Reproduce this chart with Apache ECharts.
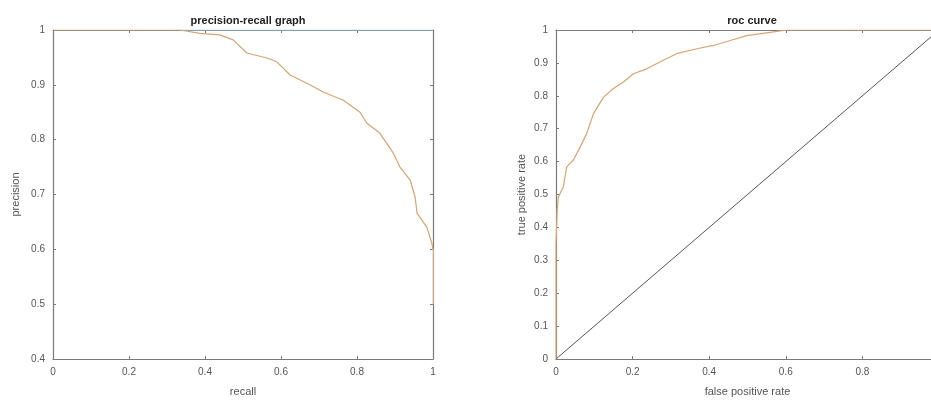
<!DOCTYPE html>
<html>
<head>
<meta charset="utf-8">
<script src="https://cdn.jsdelivr.net/npm/echarts@6/dist/echarts.min.js"></script>
<style>
html, body { margin: 0; padding: 0; background: #fff; }
#chart { width: 931px; height: 401px; }
</style>
</head>
<body>
<div id="chart"></div>
<script>
// precision-recall curve
const prRecall = [0, 0.334, 0.387, 0.439, 0.474, 0.51, 0.563, 0.589, 0.624, 0.676, 0.711, 0.764, 0.808, 0.826, 0.86, 0.896, 0.913, 0.94, 0.953, 0.958, 0.984, 0.997, 1]
const prPrecision = [1, 1, 0.994, 0.991, 0.982, 0.958, 0.949, 0.942, 0.918, 0.9, 0.887, 0.872, 0.85, 0.83, 0.812, 0.775, 0.75, 0.726, 0.695, 0.666, 0.64, 0.611, 0.6]
const prTailRecall = [1, 1]
const prTailPrecision = [0.6, 0.5]
const prTopRecall = [0.334, 1]
const prTopPrecision = [1, 1]

// roc curve
const rocFpr = [0, 0, 0.003, 0.006, 0.019, 0.028, 0.045, 0.063, 0.08, 0.098, 0.124, 0.15, 0.176, 0.202, 0.237, 0.28, 0.315, 0.368, 0.411, 0.455, 0.498, 0.559, 0.603, 1]
const rocTpr = [0, 0.35, 0.45, 0.492, 0.523, 0.584, 0.604, 0.644, 0.685, 0.746, 0.796, 0.822, 0.842, 0.867, 0.882, 0.908, 0.928, 0.943, 0.953, 0.968, 0.983, 0.993, 1, 1]
const diagX = [0, 1]
const diagY = [0, 1]

const zip = (xs, ys) => xs.map((x, i) => [x, ys[i]])

const font = 'Liberation Sans, Arial, sans-serif'
const axisColor = '#7a7a7a'
const curveColor = '#d6a477'

const mainAxis = (extra) => Object.assign({
    type: 'value',
    axisLine: { show: true, onZero: false, lineStyle: { color: axisColor, width: 1.2 } },
    axisTick: { show: true, inside: true, length: 3, lineStyle: { color: axisColor } },
    axisLabel: { color: '#555', fontSize: 10, fontFamily: font, margin: 8, formatter: (v) => String(+v.toFixed(1)) },
    splitLine: { show: false },
    nameTextStyle: { color: '#555', fontSize: 11, fontFamily: font }
}, extra)

const mirrorAxis = (extra) => Object.assign({
    type: 'value',
    axisLine: { show: true, onZero: false, lineStyle: { color: axisColor, width: 1.2 } },
    axisTick: { show: true, inside: true, length: 3, lineStyle: { color: axisColor } },
    axisLabel: { show: false },
    splitLine: { show: false }
}, extra)

const myChart = echarts.init(document.getElementById('chart'), null, { renderer: 'canvas' })

const option = {
    backgroundColor: '#fff',
    animation: false,
    title: [
        { text: 'precision-recall graph', left: 243, top: 10, textAlign: 'center',
          textStyle: { fontSize: 11, fontWeight: 'bold', color: '#222', fontFamily: font } },
        { text: 'roc curve', left: 747, top: 10, textAlign: 'center',
          textStyle: { fontSize: 11, fontWeight: 'bold', color: '#222', fontFamily: font } }
    ],
    grid: [
        { left: 53, top: 30, width: 380, height: 329, outerBoundsMode: 'none', containLabel: false },
        { left: 556, top: 30, width: 383, height: 329, outerBoundsMode: 'none', containLabel: false }
    ],
    xAxis: [
        mainAxis({ gridIndex: 0, position: 'bottom', min: 0, max: 1, interval: 0.2, name: 'recall', nameLocation: 'middle', nameGap: 27 }),
        mirrorAxis({ gridIndex: 0, position: 'top', min: 0, max: 1, interval: 0.2 }),
        mainAxis({ gridIndex: 1, position: 'bottom', min: 0, max: 1, interval: 0.2, name: 'false positive rate', nameLocation: 'middle', nameGap: 27 }),
        mirrorAxis({ gridIndex: 1, position: 'top', min: 0, max: 1, interval: 0.2 })
    ],
    yAxis: [
        mainAxis({ gridIndex: 0, position: 'left', min: 0.4, max: 1, interval: 0.1, name: 'precision', nameLocation: 'middle', nameGap: 32 }),
        mirrorAxis({ gridIndex: 0, position: 'right', min: 0.4, max: 1, interval: 0.1 }),
        mainAxis({ gridIndex: 1, position: 'left', min: 0, max: 1, interval: 0.1, name: 'true positive rate', nameLocation: 'middle', nameGap: 29 }),
        mirrorAxis({ gridIndex: 1, position: 'right', min: 0, max: 1, interval: 0.1 })
    ],
    series: [
        { type: 'line', xAxisIndex: 0, yAxisIndex: 0, data: zip(prTopRecall, prTopPrecision), showSymbol: false,
          lineStyle: { color: '#8ecbe0', width: 1.2 }, z: 3 },
        { type: 'line', xAxisIndex: 0, yAxisIndex: 0, data: zip(prRecall, prPrecision), showSymbol: false,
          lineStyle: { color: curveColor, width: 1.2 } },
        { type: 'line', xAxisIndex: 0, yAxisIndex: 0, data: zip(prTailRecall, prTailPrecision), showSymbol: false,
          lineStyle: { color: '#f3d3b4', width: 1.2 } },
        { type: 'line', xAxisIndex: 2, yAxisIndex: 2, data: zip(diagX, diagY), showSymbol: false,
          lineStyle: { color: '#555', width: 1 } },
        { type: 'line', xAxisIndex: 2, yAxisIndex: 2, data: zip(rocFpr, rocTpr), showSymbol: false,
          lineStyle: { color: curveColor, width: 1.2 } }
    ]
}
option && myChart.setOption(option)
</script>
</body>
</html>
